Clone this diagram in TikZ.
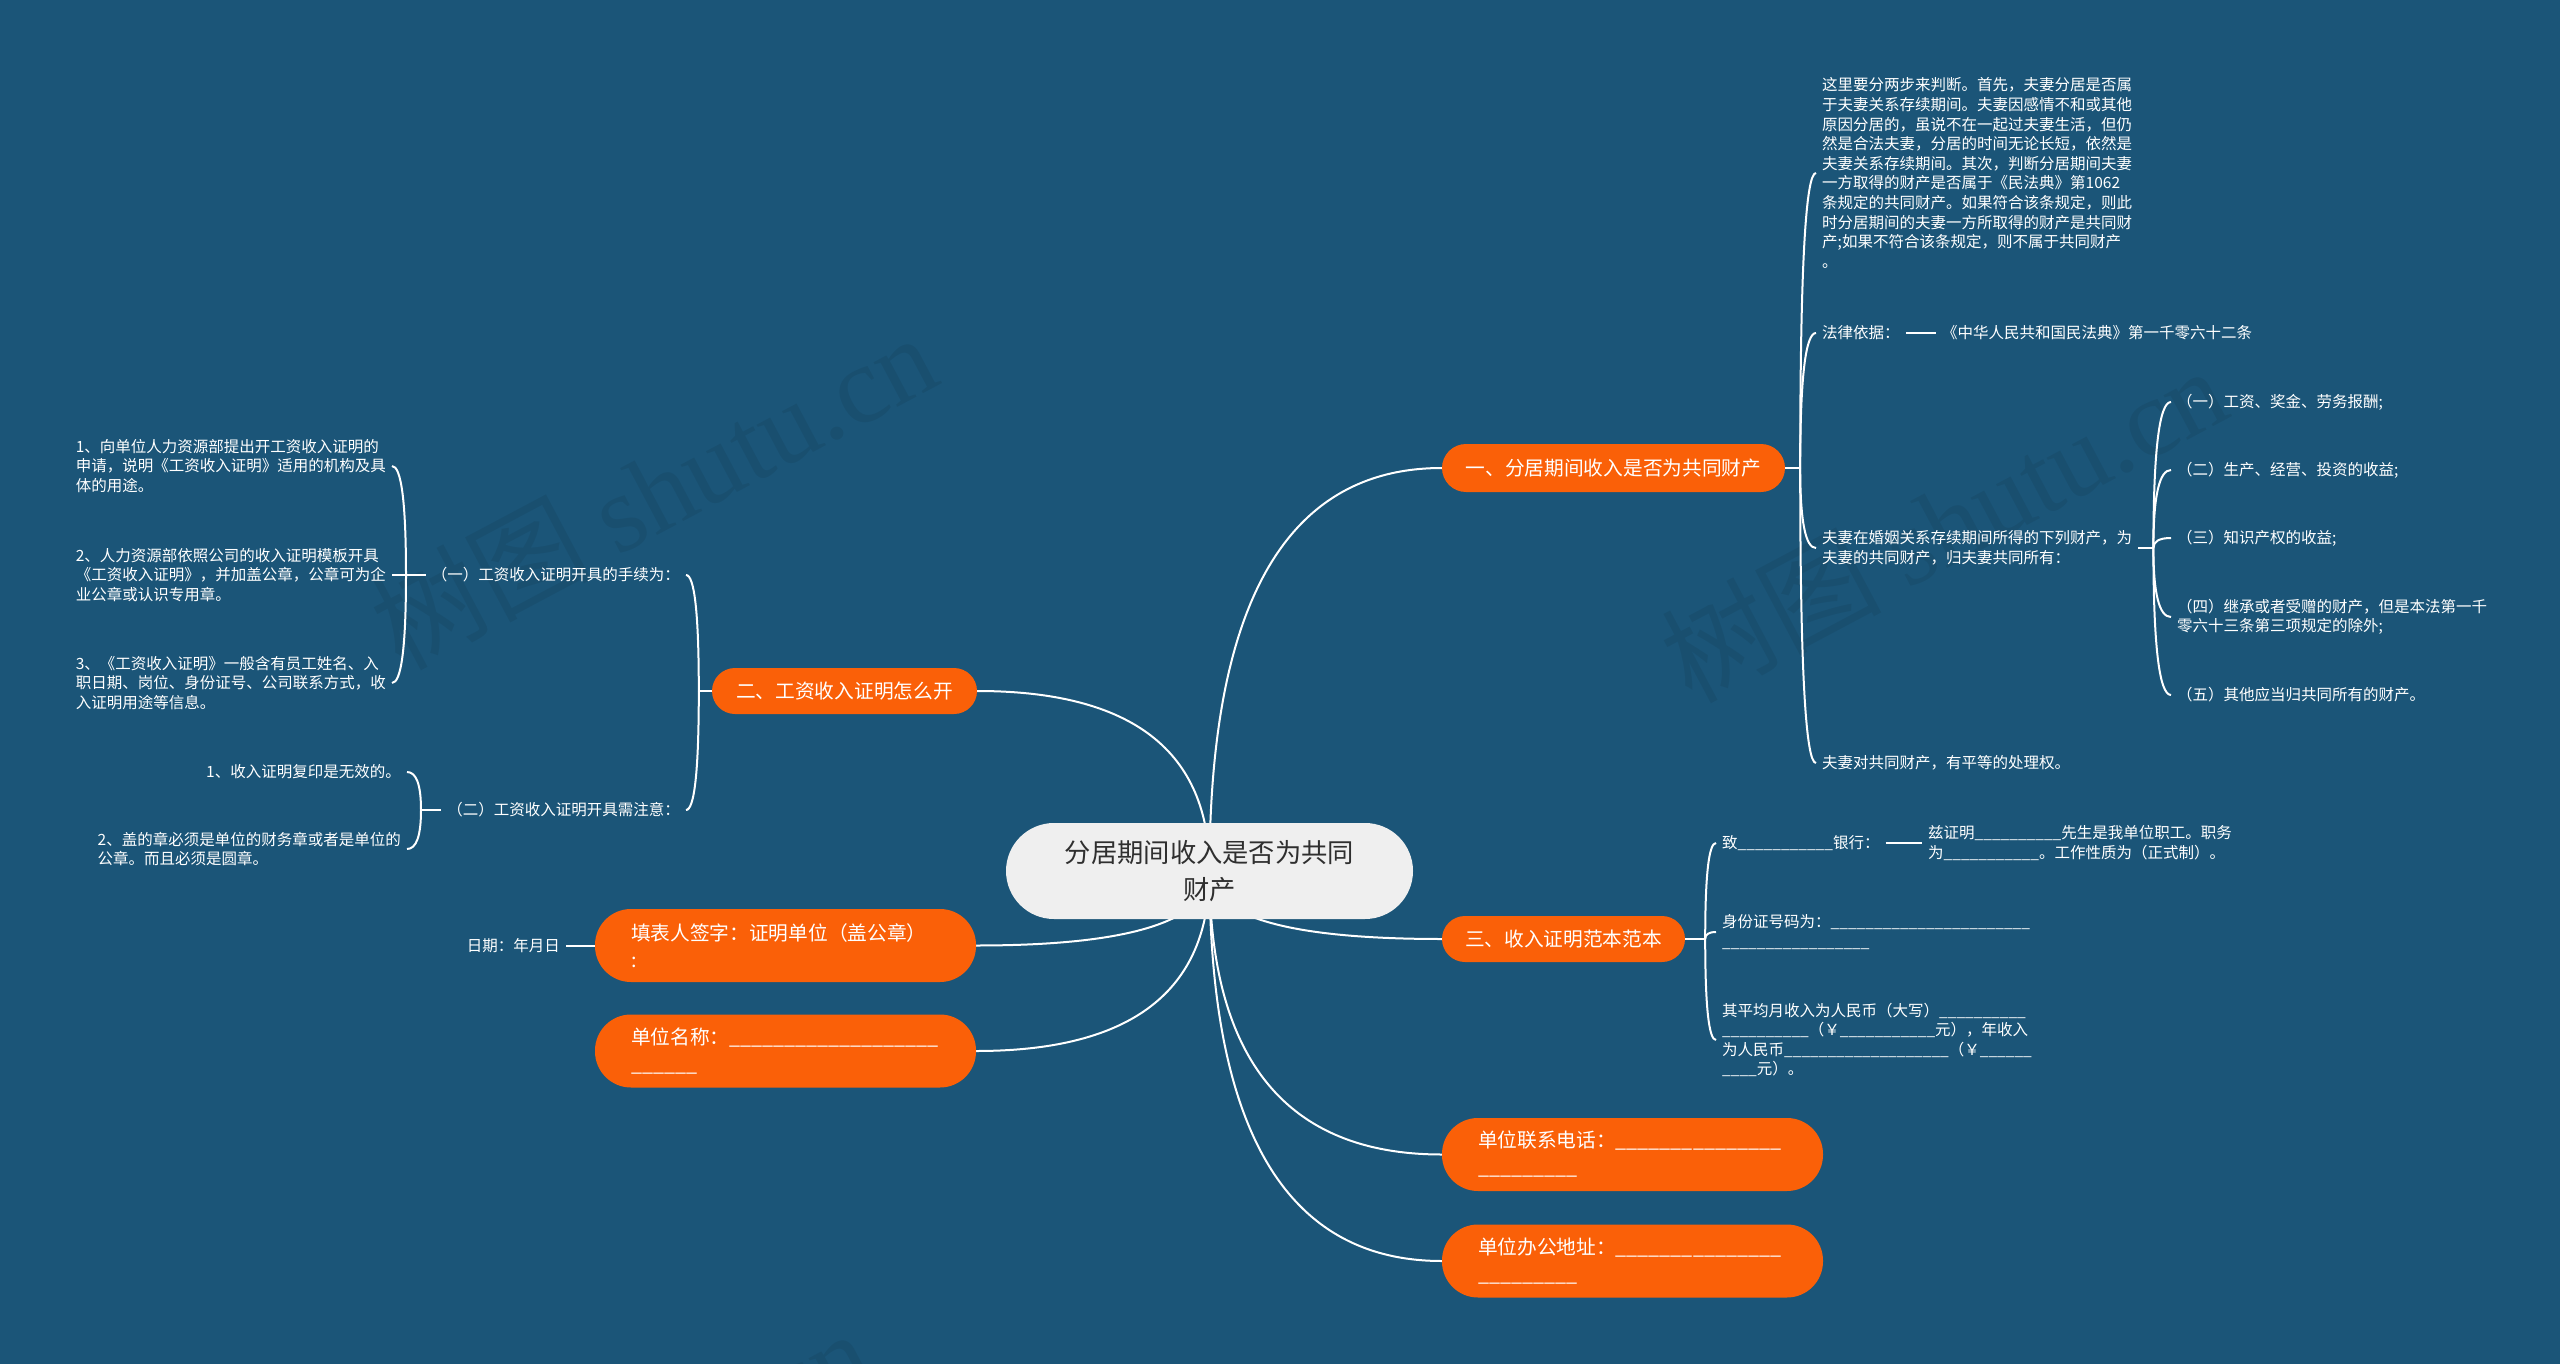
\documentclass[tikz,border=0pt]{standalone}
\usepackage{fontspec}
\setmainfont{Noto Sans CJK SC}
\newfontfamily\wmlatin{Liberation Serif}
\usetikzlibrary{calc,backgrounds}
\definecolor{bgblue}{HTML}{1B5578}
\definecolor{orng}{HTML}{FA6008}
\definecolor{rootfill}{HTML}{EFEFEF}
\definecolor{roottext}{HTML}{2F2F2F}
\newcount\blankcount
\newcommand\blanks[1]{\blankcount=#1\relax\loop\ifnum\blankcount>0 \_\advance\blankcount by -1\relax\repeat}
\tikzset{
  link/.style={draw=white, line width=2pt},
  hook/.style={to path={.. controls ($(\tikztostart)!0.6667!(\tikztostart |- \tikztotarget)$) and ($(\tikztotarget)!0.6667!(\tikztostart |- \tikztotarget)$) .. (\tikztotarget)}},
  small/.style={text=white, font=\fontsize{15.5pt}{19.6pt}\selectfont, align=left, inner xsep=6pt, inner ysep=0pt},
  mainnode/.style={fill=orng, text=white, font=\fontsize{19.7pt}{27pt}\selectfont, inner sep=0pt, rounded corners=#1},
  twoline/.style={mainnode=36pt, minimum width=381pt, minimum height=73pt, text width=309pt, align=left},
  wm/.style={text=black, opacity=0.07, font=\fontsize{110pt}{110pt}\selectfont, rotate=28, inner sep=0pt}
}
\begin{document}
\begin{tikzpicture}[x=1pt,y=-1pt]
\useasboundingbox (0,0) rectangle (2560,1364);

% root
\node[fill=rootfill, text=roottext, rounded corners=48pt, minimum width=407pt, minimum height=96pt, inner sep=0pt, align=center, font=\fontsize{26.3pt}{37pt}\selectfont] (root) at (1209.5,871) {分居期间收入是否为共同\\财产};

% main branches
\node[mainnode=24pt, minimum width=343pt, minimum height=48pt] (b1) at (1613.5,468) {一、分居期间收入是否为共同财产};
\node[mainnode=23pt, minimum width=265pt, minimum height=46pt] (b2) at (844.5,691) {二、工资收入证明怎么开};
\node[mainnode=23pt, minimum width=243pt, minimum height=46pt] (b3) at (1563.5,939) {三、收入证明范本范本};
\node[twoline] (b4) at (785.5,945.5) {填表人签字：证明单位（盖公章）\\:};
\node[twoline] (b7) at (785.5,1051) {单位名称：\blanks{19}\\\blanks{6}};
\node[twoline] (b5) at (1632.5,1154.5) {单位联系电话：\blanks{15}\\\blanks{9}};
\node[twoline] (b6) at (1632.5,1261) {单位办公地址：\blanks{15}\\\blanks{9}};

% branch one
\node[small, anchor=west] (p1) at (1816,173) {这里要分两步来判断。首先，夫妻分居是否属\\于夫妻关系存续期间。夫妻因感情不和或其他\\原因分居的，虽说不在一起过夫妻生活，但仍\\然是合法夫妻，分居的时间无论长短，依然是\\夫妻关系存续期间。其次，判断分居期间夫妻\\一方取得的财产是否属于《民法典》第1062\\条规定的共同财产。如果符合该条规定，则此\\时分居期间的夫妻一方所取得的财产是共同财\\产;如果不符合该条规定，则不属于共同财产\\。};
\node[small, anchor=west] (p2) at (1816,333) {法律依据：};
\node[small, anchor=west] (p2a) at (1936,333) {《中华人民共和国民法典》第一千零六十二条};
\node[small, anchor=west] (p3) at (1816,548) {夫妻在婚姻关系存续期间所得的下列财产，为\\夫妻的共同财产，归夫妻共同所有：};
\node[small, anchor=west] (p4) at (1816,763) {夫妻对共同财产，有平等的处理权。};
\node[small, anchor=west] (q1) at (2171,402) {（一）工资、奖金、劳务报酬;};
\node[small, anchor=west] (q2) at (2171,470) {（二）生产、经营、投资的收益;};
\node[small, anchor=west] (q3) at (2171,538) {（三）知识产权的收益;};
\node[small, anchor=west] (q4) at (2171,617) {（四）继承或者受赠的财产，但是本法第一千\\零六十三条第三项规定的除外;};
\node[small, anchor=west] (q5) at (2171,695) {（五）其他应当归共同所有的财产。};

% branch three
\node[small, anchor=west] (r1) at (1716,843) {致\blanks{11}银行：};
\node[small, anchor=west] (r1a) at (1922,843) {兹证明\blanks{10}先生是我单位职工。职务\\为\blanks{11}。工作性质为（正式制）。};
\node[small, anchor=west] (r2) at (1716,932) {身份证号码为：\blanks{23}\\\blanks{17}};
\node[small, anchor=west] (r3) at (1716,1040) {其平均月收入为人民币（大写）\blanks{10}\\\blanks{10}（￥\blanks{11}元），年收入\\为人民币\blanks{19}（￥\blanks{6}\\\blanks{4}元）。};

% branch two
\node[small, anchor=east] (s1) at (686,575) {（一）工资收入证明开具的手续为：};
\node[small, anchor=east] (s2) at (686,810) {（二）工资收入证明开具需注意：};
\node[small, anchor=east] (t1) at (392,466) {1、向单位人力资源部提出开工资收入证明的\\申请，说明《工资收入证明》适用的机构及具\\体的用途。};
\node[small, anchor=east] (t2) at (392,575) {2、人力资源部依照公司的收入证明模板开具\\《工资收入证明》，并加盖公章，公章可为企\\业公章或认识专用章。};
\node[small, anchor=east] (t3) at (392,683) {3、《工资收入证明》一般含有员工姓名、入\\职日期、岗位、身份证号、公司联系方式，收\\入证明用途等信息。};
\node[small, anchor=east] (u1) at (407,772) {1、收入证明复印是无效的。};
\node[small, anchor=east] (u2) at (407,849) {2、盖的章必须是单位的财务章或者是单位的\\公章。而且必须是圆章。};
\node[small, anchor=east] (date) at (566,945.5) {日期：年月日};

% junctions
\coordinate (j1) at ($(b1.east)+(15,0)$);
\coordinate (j3) at ($(p3.east)+(15,0)$);
\coordinate (j5) at ($(b3.east)+(20,0)$);
\coordinate (j2) at ($(b2.west)+(-13,0)$);
\coordinate (j21) at (406,575);
\coordinate (j22) at (421,810);

\begin{scope}[on background layer]
\fill[bgblue] (0,0) rectangle (2560,1364);
\begin{scope}
\clip (0,0) rectangle (2560,1364);
\node[wm] (w1) at (653,490) {树图 {\wmlatin shutu.cn}};
\node[wm] (w2) at (1943,523) {树图 {\wmlatin shutu.cn}};
\node[wm] (w3) at (588,1486) {树图 {\wmlatin shutu.cn}};
\node[wm] (w4) at (1878,1519) {树图 {\wmlatin shutu.cn}};
\end{scope}
% root to branches
\draw[link] (root.center) to[hook] (b1.west);
\draw[link] (root.center) to[hook] (b3.west);
\draw[link] (root.center) to[hook] (b5.west);
\draw[link] (root.center) to[hook] (b6.west);
\draw[link] (root.center) to[hook] (b2.east);
\draw[link] (root.center) to[hook] (b4.east);
\draw[link] (root.center) to[hook] (b7.east);
% branch one
\draw[link] (b1.east) -- (j1);
\draw[link] (j1) to[hook] (p1.west);
\draw[link] (j1) to[hook] (p2.west);
\draw[link] (j1) to[hook] (p3.west);
\draw[link] (j1) to[hook] (p4.west);
\draw[link] (p2.east) -- (p2a.west);
\draw[link] (p3.east) -- (j3);
\draw[link] (j3) to[hook] (q1.west);
\draw[link] (j3) to[hook] (q2.west);
\draw[link] (j3) to[hook] (q3.west);
\draw[link] (j3) to[hook] (q4.west);
\draw[link] (j3) to[hook] (q5.west);
% branch three
\draw[link] (b3.east) -- (j5);
\draw[link] (j5) to[hook] (r1.west);
\draw[link] (j5) to[hook] (r2.west);
\draw[link] (j5) to[hook] (r3.west);
\draw[link] (r1.east) -- (r1a.west);
% branch two
\draw[link] (b2.west) -- (j2);
\draw[link] (j2) to[hook] (s1.east);
\draw[link] (j2) to[hook] (s2.east);
\draw[link] (s1.west) -- (j21);
\draw[link] (j21) to[hook] (t1.east);
\draw[link] (j21) to[hook] (t2.east);
\draw[link] (j21) to[hook] (t3.east);
\draw[link] (s2.west) -- (j22);
\draw[link] (j22) to[hook] (u1.east);
\draw[link] (j22) to[hook] (u2.east);
% date
\draw[link] (date.east) -- (b4.west);
\end{scope}
\end{tikzpicture}
\end{document}
